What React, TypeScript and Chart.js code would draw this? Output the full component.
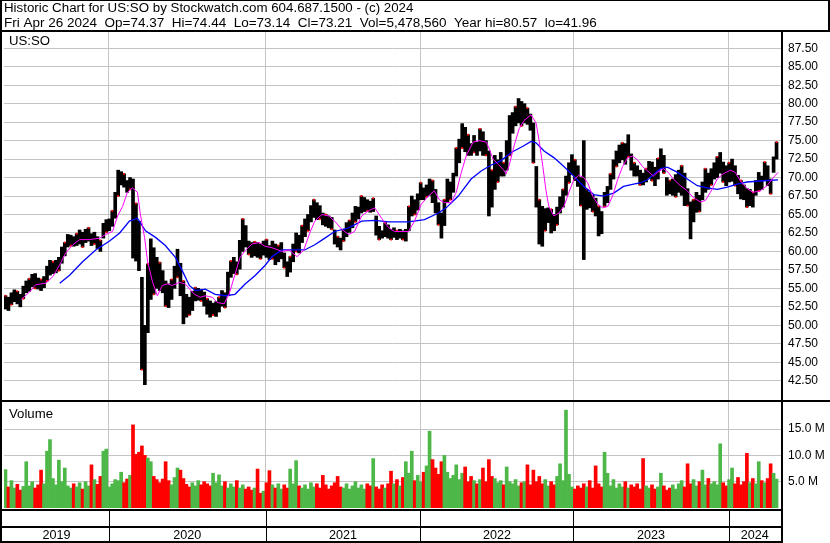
import { useEffect, useRef } from 'react';
import { Chart, registerables } from 'chart.js';

Chart.register(...registerables);

const headerLine1 = 'Historic Chart for US:SO by Stockwatch.com 604.687.1500 - (c) 2024';
const headerLine2 = 'Fri Apr 26 2024  Op=74.37  Hi=74.44  Lo=73.14  Cl=73.21  Vol=5,478,560  Year hi=80.57  lo=41.96';
const symbolLabel = 'US:SO';
const volumeLabel = 'Volume';

const yearLabels = ['2019', '2020', '2021', '2022', '2023', '2024'];
// week index (weeks since Apr 26 2019) at which each new year begins
const yearBreaks = [34.9, 87.7, 139.9, 191.5, 243.8];

const priceTicks = [42.5, 45, 47.5, 50, 52.5, 55, 57.5, 60, 62.5, 65, 67.5, 70, 72.5, 75, 77.5, 80, 82.5, 85, 87.5];
const volumeTicks = [5, 10, 15];

// weekly highs / lows (US:SO), Apr 2019 - Apr 2024
const weeklyHigh = [
  54.0, 53.8, 54.4, 54.8, 54.6, 54.2, 55.3, 56.0, 56.3, 56.9,
  57.0, 56.4, 56.2, 56.6, 58.0, 58.8, 58.6, 58.8, 59.2, 60.6,
  61.2, 62.3, 62.2, 62.0, 62.4, 62.9, 62.6, 63.0, 63.2, 62.4,
  62.6, 62.0, 61.5, 63.8, 64.3, 64.4, 65.5, 68.0, 71.0, 70.8,
  70.5, 69.6, 70.0, 69.8, 66.5, 64.1, 56.5, 50.0, 58.3, 61.7,
  60.5, 59.2, 58.5, 57.4, 56.0, 55.6, 56.2, 58.0, 60.3, 58.4,
  56.0, 54.2, 53.8, 54.6, 55.1, 55.0, 54.8, 54.5, 53.6, 53.3,
  53.0, 53.2, 53.8, 54.7, 54.4, 57.2, 58.7, 59.2, 58.6, 61.5,
  64.4, 63.5, 61.4, 61.2, 61.3, 61.2, 61.0, 61.4, 61.6, 60.8,
  61.4, 61.0, 60.8, 61.2, 59.8, 58.6, 59.3, 61.0, 62.5, 62.2,
  63.5, 64.4, 65.0, 66.2, 67.0, 66.6, 66.2, 65.2, 65.0, 64.8,
  64.6, 62.9, 62.0, 61.8, 63.0, 63.9, 64.2, 65.2, 66.1, 66.0,
  67.5, 67.3, 67.0, 66.8, 67.2, 64.8, 63.4, 62.8, 63.9, 63.6,
  63.0, 63.2, 62.8, 63.0, 62.8, 63.0, 66.1, 67.5, 67.0, 67.8,
  69.3, 68.6, 69.0, 69.8, 69.6, 68.4, 66.6, 65.2, 67.0, 69.8,
  69.4, 70.6, 74.0, 75.2, 77.3, 76.8, 75.8, 74.6, 75.7, 74.8,
  76.6, 76.2, 75.0, 73.6, 71.0, 73.0, 72.4, 73.4, 72.0, 75.0,
  78.4, 78.8, 79.6, 80.7, 80.3, 80.0, 79.4, 78.6, 77.4, 71.5,
  67.0, 66.1, 65.8, 65.9, 65.7, 65.0, 66.0, 67.4, 68.4, 70.2,
  72.0, 73.1, 72.4, 71.6, 70.0, 75.0, 68.4, 68.0, 67.6, 67.2,
  66.1, 65.4, 68.0, 68.8, 70.5, 72.4, 73.6, 74.4, 74.7, 74.6,
  75.8, 73.2, 72.0, 71.6, 71.0, 70.6, 71.2, 72.2, 72.1, 71.4,
  72.6, 73.9, 73.0, 70.0, 69.6, 69.8, 70.4, 71.0, 71.6, 70.6,
  68.5, 66.7, 67.0, 68.0, 67.6, 69.4, 71.2, 70.6, 71.2, 72.0,
  72.8, 73.4, 72.1, 71.6, 72.0, 72.5, 71.6, 70.3, 69.6, 69.0,
  68.5, 68.4, 68.0, 69.6, 70.7, 70.2, 72.1, 71.6, 69.8, 72.8,
  74.8,
];

const weeklyLow = [
  52.2, 52.0, 52.8, 53.2, 52.9, 52.5, 53.6, 54.4, 54.6, 55.2,
  55.0, 54.9, 54.7, 55.1, 56.0, 56.8, 57.0, 57.1, 57.4, 58.4,
  59.4, 60.6, 60.8, 60.7, 60.8, 61.0, 60.6, 61.2, 61.4, 60.8,
  61.0, 60.4, 60.0, 61.8, 62.6, 62.8, 63.4, 64.5, 67.5, 69.0,
  68.7, 68.0, 68.4, 59.1, 58.7, 57.4, 44.0, 41.96, 49.0, 53.5,
  54.2, 55.0, 54.7, 54.4, 52.6, 52.4, 53.5, 55.0, 56.5, 54.0,
  50.2, 51.1, 51.4, 52.0, 53.3, 53.4, 53.3, 52.6, 51.5, 51.1,
  51.4, 51.2, 51.8, 52.6, 52.4, 54.0, 56.5, 57.0, 56.9, 57.6,
  60.0, 60.6, 59.6, 59.2, 59.4, 59.2, 59.0, 59.5, 59.2, 58.9,
  59.0, 58.2, 58.6, 59.0, 57.8, 56.6, 57.2, 58.6, 60.0, 59.8,
  61.2, 62.0, 62.8, 64.0, 64.6, 64.3, 64.4, 63.6, 63.4, 63.2,
  63.0, 61.0, 60.6, 60.2, 61.4, 62.0, 62.6, 63.2, 64.0, 64.4,
  65.2, 65.4, 65.5, 65.3, 65.4, 62.2, 61.6, 61.8, 62.0, 61.8,
  61.6, 61.9, 61.6, 61.8, 61.6, 61.4, 62.8, 64.8, 65.0, 65.6,
  67.0, 67.0, 67.4, 67.6, 66.6, 65.2, 63.6, 61.8, 63.5, 66.6,
  67.0, 68.0, 70.2, 72.0, 74.0, 73.5, 73.0, 73.0, 73.4, 73.0,
  73.6, 73.0, 73.0, 64.8, 66.0, 68.4, 69.4, 70.2, 70.2, 71.0,
  73.0, 76.0, 77.0, 77.4, 77.0, 77.4, 77.2, 76.4, 72.0, 66.0,
  61.0, 60.7, 62.8, 63.9, 62.5, 62.8, 63.6, 65.2, 66.0, 67.6,
  69.3, 70.4, 69.6, 68.8, 66.2, 58.9, 65.7, 65.9, 65.4, 64.8,
  62.1, 62.4, 66.1, 66.6, 68.4, 69.8, 71.5, 72.0, 72.4, 71.8,
  72.8, 71.0, 70.2, 70.2, 69.0, 69.0, 69.4, 70.0, 69.6, 68.9,
  69.8, 71.2, 70.6, 67.6, 67.8, 67.6, 67.4, 68.0, 67.6, 66.2,
  66.2, 61.7, 64.0, 65.3, 65.4, 67.0, 68.0, 68.4, 69.0, 69.8,
  70.0, 70.6, 69.4, 68.9, 69.4, 69.5, 68.9, 67.8, 67.1, 67.0,
  66.0, 66.2, 66.0, 67.6, 68.2, 68.4, 69.6, 68.9, 67.8, 70.7,
  72.5,
];

// weekly volume, millions of shares
const weeklyVolume = [
  7.3, 4.0, 5.2, 3.8, 4.5, 3.4, 4.1, 8.8, 4.2, 5.0,
  3.8, 4.4, 7.2, 4.6, 10.8, 13.0, 5.6, 4.4, 9.1, 5.0,
  7.6, 4.2, 3.8, 4.6, 4.0, 4.8, 3.6, 5.0, 4.2, 8.2,
  5.4, 4.5, 6.0, 10.8, 11.2, 4.0, 4.6, 5.4, 5.2, 6.8,
  4.8, 5.5, 6.2, 15.8, 10.2, 10.6, 11.8, 10.0, 9.5, 8.8,
  6.0, 5.4, 4.8, 5.5, 8.8, 5.2, 4.4, 5.8, 7.6, 7.2,
  5.6, 4.5, 4.0, 4.8, 4.2, 5.2, 4.4, 5.0, 4.6, 4.2,
  6.6, 4.8, 6.3, 4.2, 5.0, 3.8, 4.6, 4.0, 5.2, 3.8,
  4.4, 3.6, 4.0, 3.4, 3.8, 7.4, 2.8, 3.2, 4.8, 7.1,
  4.4, 3.8, 4.6, 3.6, 4.4, 3.8, 7.4, 4.6, 9.0, 4.2,
  3.8, 4.4, 3.6, 4.8, 4.0, 4.6, 3.8, 6.2, 4.4, 3.6,
  4.2, 4.8, 6.0, 4.0, 3.8, 4.6, 3.6, 4.2, 5.0, 3.8,
  4.4, 3.6, 4.6, 4.2, 9.4, 4.0, 3.6, 4.4, 3.8, 4.6,
  7.0, 4.6, 5.4, 4.2, 5.8, 8.8, 6.6, 10.8, 5.2, 6.2,
  5.0, 6.8, 8.0, 14.6, 9.2, 7.6, 6.4, 8.8, 10.0, 6.8,
  5.6, 6.2, 8.2, 5.4, 6.6, 7.8, 5.0, 6.0, 5.2, 4.6,
  5.4, 7.6, 5.0, 9.2, 6.0, 5.6, 4.8, 5.2, 4.4, 7.8,
  5.0, 4.6, 5.4, 4.2, 4.8, 5.0, 8.2, 4.4, 7.2, 5.0,
  6.0, 4.6, 5.4, 4.2, 5.0, 4.4, 6.0, 8.4, 5.2, 18.6,
  6.4, 4.0, 3.6, 4.2, 3.8, 4.6, 4.0, 5.2, 3.8, 8.0,
  4.6, 4.0, 10.6, 6.6, 4.2, 5.4, 3.8, 4.6, 4.0, 5.0,
  3.8, 4.4, 4.0, 4.6, 3.6, 9.4, 4.2, 3.8, 4.4, 3.6,
  4.0, 6.6, 4.2, 3.4, 3.8, 4.4, 3.6, 4.6, 5.2, 4.0,
  8.4, 4.6, 5.4, 4.2, 5.0, 7.2, 4.4, 5.6, 4.6, 5.0,
  4.4, 12.2, 4.8, 4.2, 5.4, 7.6, 4.6, 5.8, 4.4, 5.0,
  10.4, 4.8, 5.6, 4.6, 8.8, 5.2, 4.8, 5.6, 8.4, 6.6,
  5.5,
];

// short moving average (magenta), read at week positions
const fastMAWeek = [
  5.3, 8.1, 10.2, 13.6, 16.0, 18.3, 20.3, 22.7, 25.0, 28.4, 31.7, 33.8, 36.1, 37.8, 39.5, 41.1, 42.8, 44.5, 45.5, 46.9,
  47.9, 49.5, 51.2, 52.9, 54.6, 56.3, 58.6, 60.6, 63.7, 65.7, 67.4, 69.7, 71.4, 73.7, 75.4, 77.4, 79.1, 80.8, 83.1, 85.5,
  87.5, 89.9, 93.2, 95.6, 98.3, 100.6, 102.6, 104.3, 106.7, 109.0, 111.0, 113.4, 115.7, 117.7, 120.1, 122.4, 124.5, 126.8, 129.2, 131.2,
  133.5, 135.9, 137.9, 140.2, 142.6, 144.6, 146.3, 148.0, 150.3, 152.0, 153.7, 155.4, 157.7, 159.7, 162.1, 163.1, 164.4, 166.1, 167.8, 168.8,
  169.8, 171.5, 173.2, 174.8, 177.2, 178.9, 179.9, 181.2, 182.2, 183.2, 184.9, 186.6, 188.3, 189.9, 191.6, 193.3, 195.0, 196.3, 198.0, 199.7,
  201.4, 203.1, 204.7, 206.4, 208.1, 209.8, 211.4, 213.1, 214.8, 216.5, 218.5, 219.8, 221.9, 223.5, 225.2, 227.6, 229.9, 231.9, 234.3, 236.0,
  237.7, 240.0, 242.0, 244.4, 246.1, 247.7, 250.1, 252.1, 254.5, 256.8, 258.5, 260.5,
];
const fastMA = [
  53.5, 54.5, 55.5, 55.7, 56.6, 58.2, 59.8, 60.9, 61.6, 61.6, 61.8, 62.3, 62.7, 64.8, 66.1, 68.0, 68.6, 68.0, 65.0, 61.9,
  58.7, 56.0, 54.0, 55.4, 55.6, 55.4, 55.8, 55.6, 54.2, 53.8, 54.0, 53.8, 53.1, 52.9, 54.2, 56.9, 59.2, 60.1, 61.0, 61.2,
  60.7, 60.5, 60.0, 60.2, 59.3, 60.2, 62.5, 64.1, 65.0, 64.8, 64.1, 63.0, 62.3, 62.7, 64.8, 65.5, 65.9, 64.5, 63.2, 62.7,
  62.7, 62.7, 64.1, 66.4, 67.5, 68.2, 67.0, 66.6, 66.6, 68.0, 70.7, 73.0, 74.8, 75.0, 74.8, 73.9, 72.5, 71.8, 71.1, 70.5,
  71.6, 74.3, 76.6, 77.7, 78.5, 77.4, 75.1, 71.5, 68.4, 66.1, 64.8, 65.2, 66.1, 67.9, 69.7, 70.3, 70.0, 69.3, 67.5, 66.4,
  65.9, 66.1, 67.5, 69.7, 71.5, 72.7, 72.9, 72.4, 71.5, 70.9, 70.2, 70.7, 71.2, 70.7, 69.8, 68.9, 68.2, 67.3, 66.7, 66.9,
  68.0, 69.8, 70.5, 71.0, 70.7, 69.6, 68.5, 68.0, 68.2, 68.9, 69.8, 70.7,
];

// long moving average (blue), read at week positions
const slowMAWeek = [
  18.3, 21.7, 26.0, 30.4, 35.1, 38.5, 41.8, 44.5, 47.2, 50.6, 53.9, 57.3, 59.6, 62.0, 64.0, 67.4, 70.7, 74.1, 77.4, 80.8,
  84.1, 87.5, 89.9, 93.2, 97.6, 100.9, 104.3, 107.7, 111.0, 115.7, 120.1, 124.5, 129.2, 135.9, 141.3, 146.0, 148.6, 152.7, 157.0, 160.4,
  163.8, 167.1, 170.5, 174.8, 177.2, 178.9, 181.6, 184.9, 188.3, 191.6, 195.0, 198.4, 201.7, 205.1, 208.4, 211.8, 214.2, 216.5, 220.9, 223.2,
  226.6, 229.9, 233.3, 236.7, 240.0, 243.4, 246.7, 250.1, 253.4, 256.8, 260.5,
];
const slowMA = [
  55.7, 56.8, 58.6, 60.2, 61.4, 62.5, 64.1, 64.5, 62.8, 61.9, 60.8, 59.2, 57.4, 55.4, 54.7, 54.9, 54.2, 54.0, 54.2, 55.6,
  56.7, 58.1, 59.3, 60.2, 60.2, 60.2, 60.9, 61.8, 62.7, 63.2, 64.1, 64.2, 64.0, 64.0, 64.3, 65.2, 65.9, 67.5, 69.8, 70.9,
  71.7, 72.3, 73.4, 74.3, 74.9, 74.7, 73.6, 72.7, 71.5, 70.2, 68.8, 67.7, 67.5, 67.9, 68.8, 69.1, 69.3, 69.7, 71.2, 71.4,
  70.7, 69.8, 68.9, 68.6, 68.4, 68.7, 69.1, 69.4, 69.5, 69.6, 69.7,
];

const FONT = '"Liberation Sans", Arial, sans-serif';
const GRID = '#c4c4c4';
const UP_GREEN = '#4db848';
const DOWN_RED = '#ff0000';

function wideText(ctx: any, text: string, x: number, y: number, sx: number) {
  ctx.save();
  ctx.translate(x, y);
  ctx.scale(sx, 1);
  ctx.fillText(text, 0, 0);
  ctx.restore();
}

const framePlugin = {
  id: 'stockFrame',
  beforeDraw(chart: any) {
    const ctx = chart.ctx;
    ctx.save();
    ctx.fillStyle = '#ffffff';
    ctx.fillRect(0, 0, chart.width, chart.height);
    ctx.restore();
  },
  afterDraw(chart: any) {
    const ctx = chart.ctx;
    const xs = chart.scales.x;
    const ca = chart.chartArea;
    const W = chart.width;
    ctx.save();
    ctx.fillStyle = '#000';
    // frame lines
    ctx.fillRect(0, 0, W, 1);
    ctx.fillRect(0, 0, 2, chart.height);
    ctx.fillRect(W - 2, 0, 2, 31);
    ctx.fillRect(0, 30, W, 2);
    ctx.fillRect(ca.right, 31, 2, chart.height - 31);
    ctx.fillRect(0, 400, W, 2);
    ctx.fillRect(0, 509, ca.right + 2, 2);
    ctx.fillRect(0, 526, ca.right + 2, 2);
    ctx.fillRect(0, 541, ca.right + 2, 2);
    // year separators in the bottom strips
    yearBreaks.forEach((b) => {
      const px = Math.round(xs.getPixelForValue(b));
      ctx.fillRect(px, 511, 1, 30);
    });
    // texts
    ctx.font = `12px ${FONT}`;
    ctx.textBaseline = 'alphabetic';
    ctx.textAlign = 'left';
    wideText(ctx, headerLine1, 4, 12, 1.11);
    wideText(ctx, headerLine2, 4, 27, 1.125);
    wideText(ctx, symbolLabel, 9, 45, 1.1);
    wideText(ctx, volumeLabel, 9, 418, 1.1);
    ctx.textAlign = 'center';
    const bounds = [xs.min, ...yearBreaks, xs.max];
    yearLabels.forEach((lab, k) => {
      const x0 = xs.getPixelForValue(bounds[k]);
      const x1 = xs.getPixelForValue(bounds[k + 1]);
      wideText(ctx, lab, (x0 + x1) / 2, 539, 1.05);
    });
    ctx.restore();
  },
};

export default function App() {
  const ref = useRef<HTMLCanvasElement | null>(null);

  useEffect(() => {
    if (!ref.current) return;
    const priceBars = weeklyHigh.map((h, i) => ({ x: i, y: [weeklyLow[i], h] }));
    const mid = weeklyHigh.map((h, i) => (h + weeklyLow[i]) / 2);
    const volBars = weeklyVolume.map((v, i) => ({ x: i, y: v }));
    const volColors = weeklyVolume.map((_, i) => (i === 0 || mid[i] >= mid[i - 1] ? UP_GREEN : DOWN_RED));
    const closeDots = weeklyHigh
      .map((h, i) => (i % 4 === 0 ? { x: i, y: h } : i % 4 === 2 ? { x: i, y: weeklyLow[i] } : null))
      .filter(Boolean);
    const fast = fastMAWeek.map((w, i) => ({ x: w, y: fastMA[i] }));
    const slow = slowMAWeek.map((w, i) => ({ x: w, y: slowMA[i] }));

    const tickFont = { family: FONT, size: 12 };

    const chart = new Chart(ref.current, {
      type: 'bar',
      data: {
        datasets: [
          {
            type: 'line',
            data: fast,
            yAxisID: 'y',
            borderColor: '#ff00ff',
            borderWidth: 1,
            pointRadius: 0,
            tension: 0,
            order: 0,
          } as any,
          {
            type: 'line',
            data: slow,
            yAxisID: 'y',
            borderColor: '#0000ff',
            borderWidth: 1.3,
            pointRadius: 0,
            tension: 0,
            order: 0,
          } as any,
          {
            type: 'scatter',
            data: closeDots,
            yAxisID: 'y',
            pointStyle: 'rect',
            pointRadius: 1.3,
            backgroundColor: '#ff0000',
            borderWidth: 0,
            order: 1,
          } as any,
          {
            type: 'bar',
            data: priceBars,
            yAxisID: 'y',
            backgroundColor: '#000000',
            barThickness: 3,
            grouped: false,
            order: 2,
          } as any,
          {
            type: 'bar',
            data: volBars,
            yAxisID: 'yv',
            backgroundColor: volColors,
            barThickness: 3,
            grouped: false,
            order: 2,
          } as any,
        ],
      },
      options: {
        animation: false,
        responsive: false,
        devicePixelRatio: 1,
        events: [],
        layout: { padding: { left: 1, right: 0, top: 31, bottom: 35 } },
        plugins: { legend: { display: false }, tooltip: { enabled: false }, title: { display: false } },
        scales: {
          x: {
            type: 'linear',
            min: -0.5,
            max: 261.5,
            offset: false,
            afterFit: (s: any) => { s.height = 0; },
            afterBuildTicks: (s: any) => { s.ticks = yearBreaks.map((v) => ({ value: v })); },
            ticks: { display: false, autoSkip: false },
            grid: { color: GRID, lineWidth: 1, drawTicks: false, offset: false },
            border: { display: false },
          },
          y: {
            type: 'linear',
            position: 'right',
            stack: 'panels',
            stackWeight: 369,
            min: 39.887,
            max: 89.842,
            afterFit: (s: any) => { s.width = 49; },
            afterBuildTicks: (s: any) => { s.ticks = priceTicks.map((v) => ({ value: v })); },
            ticks: {
              autoSkip: false,
              padding: 7,
              color: '#000000',
              font: tickFont,
              callback: (v: any) => Number(v).toFixed(2),
            },
            grid: { color: GRID, lineWidth: 1, drawTicks: false },
            border: { display: false },
          },
          yv: {
            type: 'linear',
            position: 'right',
            stack: 'panels',
            stackWeight: 108,
            min: 0,
            max: 20.53,
            afterFit: (s: any) => { s.width = 49; },
            afterBuildTicks: (s: any) => { s.ticks = volumeTicks.map((v) => ({ value: v })); },
            ticks: {
              autoSkip: false,
              padding: 7,
              color: '#000000',
              font: tickFont,
              callback: (v: any) => `${Number(v).toFixed(1)} M`,
            },
            grid: { color: GRID, lineWidth: 1, drawTicks: false },
            border: { display: false },
          },
        },
      } as any,
      plugins: [framePlugin],
    });
    return () => chart.destroy();
  }, []);

  return (
    <div style={{ position: 'absolute', left: 0, top: 0, width: 830, height: 543 }}>
      <canvas ref={ref} width={830} height={543} style={{ width: 830, height: 543, display: 'block' }} />
    </div>
  );
}
